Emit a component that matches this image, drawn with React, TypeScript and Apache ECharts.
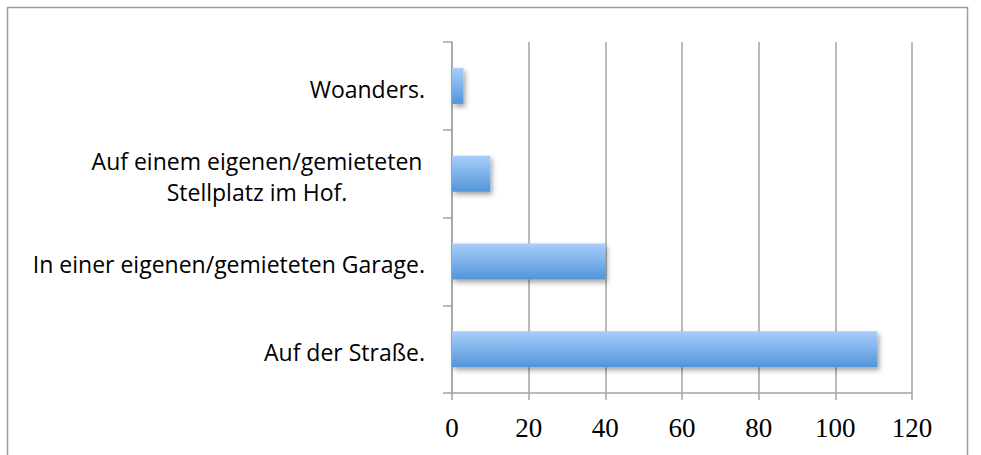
import React, { useEffect, useRef } from "react";
import * as echarts from "echarts";

const categories = [
  "Auf der Straße.",
  "In einer eigenen/gemieteten Garage.",
  "Auf einem eigenen/gemieteten\nStellplatz im Hof.",
  "Woanders.",
];
const values = [111, 40, 10, 3];
const axisMin = 0;
const axisMax = 120;
const axisStep = 20;

export default function App() {
  const ref = useRef<HTMLDivElement>(null);
  useEffect(() => {
    if (!ref.current) return;
    const chart = echarts.init(ref.current, null, { renderer: "svg" });
    const gray = "#a3a3a3";
    chart.setOption({
      animation: false,
      backgroundColor: "#ffffff",
      grid: { left: 452, right: 69, top: 42, bottom: 62, containLabel: false },
      graphic: [
        {
          type: "rect",
          shape: { x: 7.5, y: 7.5, width: 960, height: 470 },
          style: { fill: "none", stroke: "#9e9e9e", lineWidth: 1.5 },
          silent: true,
        },
      ],
      xAxis: {
        type: "value",
        min: axisMin,
        max: axisMax,
        interval: axisStep,
        axisLine: { show: true, lineStyle: { color: gray, width: 1.5 } },
        axisTick: { show: true, length: 7, lineStyle: { color: gray, width: 1.5 } },
        splitLine: { show: true, lineStyle: { color: gray, width: 1.5 } },
        axisLabel: {
          margin: 21,
          fontFamily: "Liberation Serif",
          fontSize: 27,
          color: "#000",
        },
      },
      yAxis: {
        type: "category",
        data: categories,
        axisLine: { show: true, lineStyle: { color: gray, width: 1.5 } },
        axisTick: { show: true, length: 9, alignWithLabel: false, lineStyle: { color: gray, width: 1.5 } },
        splitLine: { show: false },
        axisLabel: {
          margin: 27,
          fontFamily: "Open Sans",
          fontSize: 23,
          color: "#000",
          lineHeight: 31,
          padding: [6, 0, 0, 0],
          formatter: (v: string) => {
            if (v.indexOf("\n") >= 0) {
              return v
                .split("\n")
                .map((l) => "{c|" + l + "}")
                .join("\n");
            }
            return v;
          },
          rich: {
            c: {
              width: 336,
              align: "center",
              fontFamily: "Open Sans",
              fontSize: 23,
              lineHeight: 31,
              color: "#000",
            },
          },
        },
      },
      series: [
        {
          type: "bar",
          data: values,
          barWidth: 36,
          itemStyle: {
            color: new echarts.graphic.LinearGradient(0, 0, 0, 1, [
              { offset: 0, color: "#aacefb" },
              { offset: 1, color: "#5395d9" },
            ]),
            shadowColor: "rgba(0,0,0,0.35)",
            shadowBlur: 5,
            shadowOffsetX: 2,
            shadowOffsetY: 3,
          },
        },
      ],
    });
    return () => chart.dispose();
  }, []);
  return (
    <div
      ref={ref}
      style={{ position: "absolute", left: 0, top: 0, width: 981, height: 455 }}
    />
  );
}
